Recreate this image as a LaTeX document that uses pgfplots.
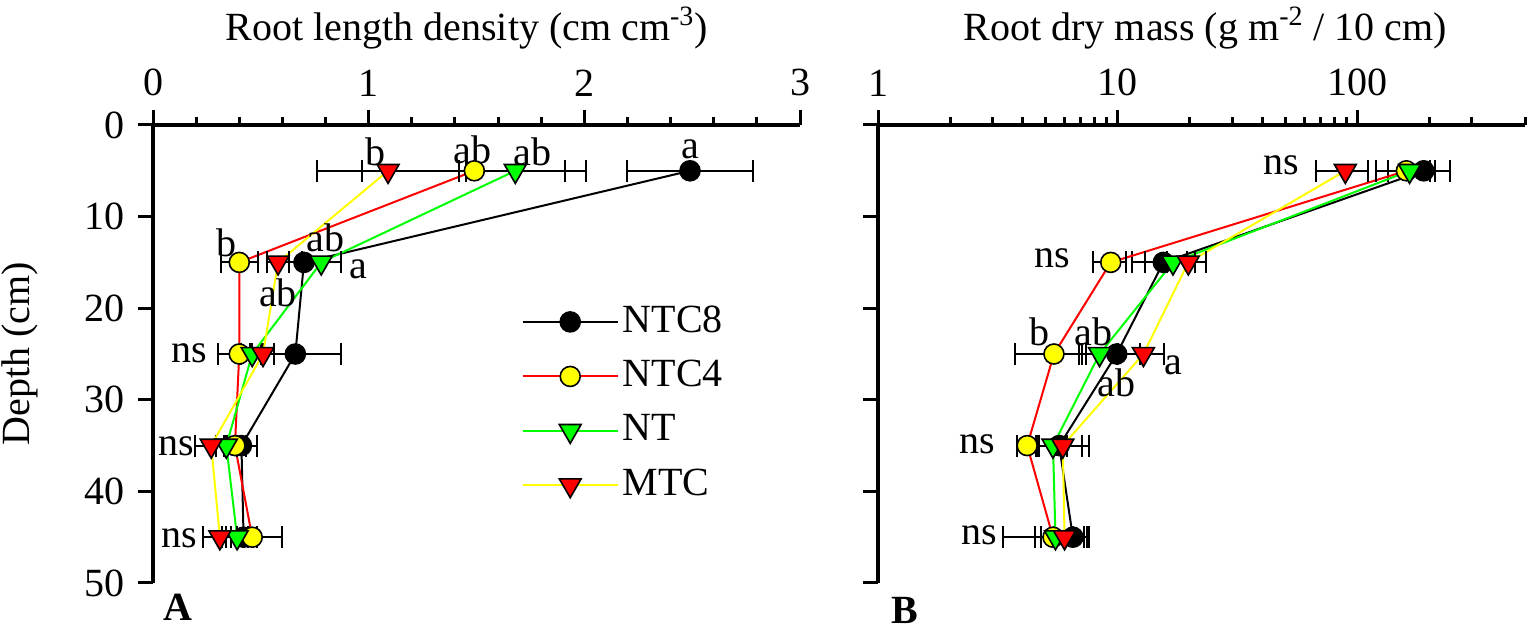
\documentclass[border=0pt]{standalone}
\usepackage{pgfplots}
\usepackage{pgfplotstable}
\pgfplotsset{compat=1.18}
\usepackage{fontspec}
\setmainfont{Liberation Serif}

\definecolor{cRed}{RGB}{255,0,0}
\definecolor{cYel}{RGB}{255,255,0}
\definecolor{cGrn}{RGB}{0,255,0}

% root length density (cm cm-3): mean and error per treatment
\pgfplotstableread{
d   c8   e8    c4   e4    nt   ent   mt   emt
5   2.49 0.29  1.49 0.52  1.68 0.23  1.09 0.33
15  0.70 0.17  0.40 0.085 0.78 0.09  0.58 0.05
25  0.66 0.21  0.40 0.10  0.46 0.05  0.51 0.05
35  0.41 0.07  0.38 0.05  0.34 0.05  0.27 0.075
45  0.42 0.06  0.46 0.14  0.39 0.05  0.31 0.08
}\rld

% root dry mass (g m-2 / 10 cm)
\pgfplotstableread{
d   c8   e8    c4   e4    nt   ent   mt   emt
5   189  55    160  40    165  45    89   22
15  15.5 4.0   9.35 1.45  17.0 4.0   19.7 3.6
25  9.9  2.5   5.42 1.7   8.4  1.5   12.8 2.8
35  5.7  1.9   4.19 0.4   5.37 0.8   5.9  1.2
45  6.5  1.1   5.37 2.06  5.5  1.0   6.0  1.2
}\rdm

\pgfplotsset{
  panel/.style={
    scale only axis, width=323.5pt, height=229pt,
    axis x line=top, axis y line=left,
    axis line style={-, line width=2pt},
    y dir=reverse, ymin=0, ymax=50, ytick={0,10,...,50},
    tick align=outside,
    major tick length=7.5pt, minor tick length=4pt,
    every tick/.style={black, line width=1.5pt},
    clip=false,
    /pgf/number format/assume math mode=true,
  },
  eb/.style={error bars/.cd, x dir=both, x explicit,
    error bar style={black, line width=1pt},
    error mark options={black, line width=1pt, mark size=5.5pt, rotate=90}},
  s8/.style={black, line width=1pt, mark=*, mark size=5pt,
    mark options={fill=black, draw=black, line width=0.8pt}},
  s4/.style={cRed, line width=1pt, mark=*, mark size=5pt,
    mark options={fill=cYel, draw=black, line width=0.8pt}},
  snt/.style={cGrn, line width=1pt, mark=triangle*, mark size=6.3pt,
    mark options={rotate=180, fill=cGrn, draw=black, line width=0.8pt}},
  smt/.style={cYel, line width=1pt, mark=triangle*, mark size=6.3pt,
    mark options={rotate=180, fill=cRed, draw=black, line width=0.8pt}},
}

\begin{document}
\fontsize{20}{24}\selectfont
\begin{tikzpicture}
\path[use as bounding box] (0,0) rectangle (767.5pt,315.5pt);

\begin{axis}[panel, at={(76.5pt,253pt)}, anchor=north west,
  xmin=0, xmax=3, xtick={0,1,2,3}, minor x tick num=4,
  xlabel={Root length density (cm cm\textsuperscript{-3})},
  xlabel style={at={(axis description cs:0.485,1.212)}, anchor=center},
  ylabel={Depth (cm)},
  ylabel style={at={(axis description cs:-0.205,0.5)}, anchor=center},
  legend style={at={(axis cs:1.68,18.8)}, anchor=north west, draw=none, fill=none,
    row sep=7pt, legend cell align=left},
  legend image code/.code={\draw[mark repeat=2, mark phase=2, #1]
    plot coordinates {(0pt,0pt) (23.75pt,0pt) (47.5pt,0pt)};},
]
\addplot[s8, eb] table[x=c8, y=d, x error=e8] {\rld};
\addplot[s4, eb] table[x=c4, y=d, x error=e4] {\rld};
\addplot[snt, eb] table[x=nt, y=d, x error=ent] {\rld};
\addplot[smt, eb] table[x=mt, y=d, x error=emt] {\rld};
\legend{NTC8, NTC4, NT, MTC}
\node at (axis cs:1.03,2.9) {b};
\node at (axis cs:1.48,2.7) {ab};
\node at (axis cs:1.76,2.9) {ab};
\node at (axis cs:2.49,2.7) {a};
\node at (axis cs:0.34,12.9) {b};
\node at (axis cs:0.80,12.3) {ab};
\node at (axis cs:0.95,15.8) {a};
\node at (axis cs:0.58,18.3) {ab};
\node at (axis cs:0.17,24.9) {ns};
\node at (axis cs:0.11,35.1) {ns};
\node at (axis cs:0.12,45.1) {ns};
\end{axis}

\begin{axis}[panel, at={(439pt,253pt)}, anchor=north west,
  xmode=log, xmin=1, xmax=500,
  xtick={1,10,100}, xticklabels={1,10,100},
  minor xtick={2,3,4,5,6,7,8,9,20,30,40,50,60,70,80,90,200,300,500},
  yticklabels={},
  xlabel={Root dry mass (g m\textsuperscript{-2} / 10 cm)},
  xlabel style={at={(axis description cs:0.506,1.212)}, anchor=center},
]
\addplot[s8, eb] table[x=c8, y=d, x error=e8] {\rdm};
\addplot[s4, eb] table[x=c4, y=d, x error=e4] {\rdm};
\addplot[snt, eb] table[x=nt, y=d, x error=ent] {\rdm};
\addplot[smt, eb] table[x=mt, y=d, x error=emt] {\rdm};
\node at (axis cs:47.9,4.4) {ns};
\node at (axis cs:5.33,14.5) {ns};
\node at (axis cs:4.70,22.6) {b};
\node at (axis cs:7.95,22.6) {ab};
\node at (axis cs:17.1,26.2) {a};
\node at (axis cs:9.9,28.1) {ab};
\node at (axis cs:2.60,34.9) {ns};
\node at (axis cs:2.65,44.8) {ns};
\end{axis}

\node[font=\fontsize{20}{24}\selectfont\bfseries] at (89pt,12pt) {A};
\node[font=\fontsize{20}{24}\selectfont\bfseries] at (452.5pt,10.5pt) {B};
\end{tikzpicture}
\end{document}
